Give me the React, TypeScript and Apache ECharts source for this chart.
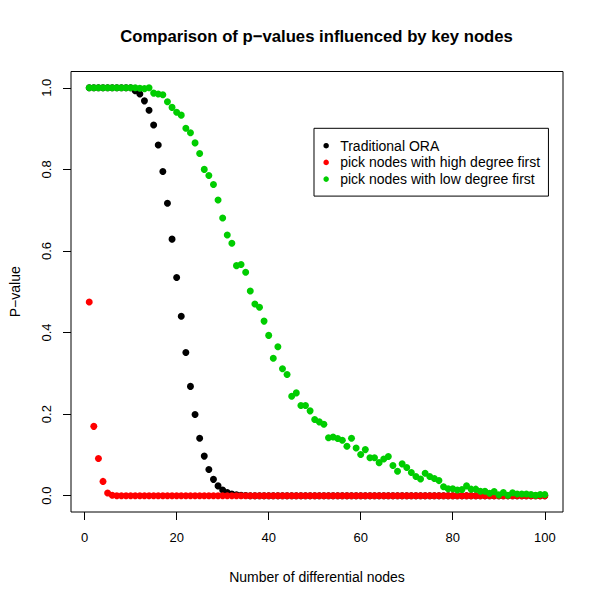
import React, { useEffect, useRef } from "react";
import * as echarts from "echarts";

const nodes = [
  1, 2, 3, 4, 5, 6, 7, 8, 9, 10,
  11, 12, 13, 14, 15, 16, 17, 18, 19, 20,
  21, 22, 23, 24, 25, 26, 27, 28, 29, 30,
  31, 32, 33, 34, 35, 36, 37, 38, 39, 40,
  41, 42, 43, 44, 45, 46, 47, 48, 49, 50,
  51, 52, 53, 54, 55, 56, 57, 58, 59, 60,
  61, 62, 63, 64, 65, 66, 67, 68, 69, 70,
  71, 72, 73, 74, 75, 76, 77, 78, 79, 80,
  81, 82, 83, 84, 85, 86, 87, 88, 89, 90,
  91, 92, 93, 94, 95, 96, 97, 98, 99, 100,
];

const traditionalORA = [
  1, 1, 1, 1, 1, 1, 1, 1, 1, 1,
  0.993, 0.985, 0.968, 0.945, 0.909, 0.86, 0.795, 0.717, 0.629, 0.535,
  0.44, 0.351, 0.268, 0.199, 0.141, 0.097, 0.064, 0.04, 0.024, 0.014,
  0.008, 0.004, 0.002, 0.001, 0.0005, 0, 0, 0, 0, 0,
  0, 0, 0, 0, 0, 0, 0, 0, 0, 0,
  0, 0, 0, 0, 0, 0, 0, 0, 0, 0,
  0, 0, 0, 0, 0, 0, 0, 0, 0, 0,
  0, 0, 0, 0, 0, 0, 0, 0, 0, 0,
  0, 0, 0, 0, 0, 0, 0, 0, 0, 0,
  0, 0, 0, 0, 0, 0, 0, 0, 0, 0,
];

const highDegreeFirst = [
  0.475, 0.17, 0.091, 0.035, 0.0066, 0.001, 0, 0, 0, 0,
  0, 0, 0, 0, 0, 0, 0, 0, 0, 0,
  0, 0, 0, 0, 0, 0, 0, 0, 0, 0,
  0, 0, 0, 0, 0, 0, 0, 0, 0, 0,
  0, 0, 0, 0, 0, 0, 0, 0, 0, 0,
  0, 0, 0, 0, 0, 0, 0, 0, 0, 0,
  0, 0, 0, 0, 0, 0, 0, 0, 0, 0,
  0, 0, 0, 0, 0, 0, 0, 0, 0, 0,
  0, 0, 0, 0, 0, 0, 0, 0, 0, 0,
  0, 0, 0, 0, 0, 0, 0, 0, 0, 0,
];

const lowDegreeFirst = [
  1, 1, 1, 1, 1, 1, 1, 1, 1, 1,
  1, 0.999, 0.998, 1, 0.987, 0.985, 0.983, 0.966, 0.952, 0.94,
  0.933, 0.901, 0.89, 0.865, 0.839, 0.8, 0.785, 0.763, 0.725, 0.681,
  0.639, 0.619, 0.564, 0.567, 0.548, 0.502, 0.47, 0.462, 0.428, 0.393,
  0.337, 0.365, 0.311, 0.297, 0.244, 0.252, 0.221, 0.221, 0.208, 0.187,
  0.181, 0.175, 0.142, 0.144, 0.14, 0.136, 0.121, 0.141, 0.117, 0.101,
  0.113, 0.093, 0.093, 0.081, 0.09, 0.096, 0.074, 0.06, 0.078, 0.069,
  0.057, 0.047, 0.041, 0.055, 0.047, 0.042, 0.037, 0.022, 0.017, 0.017,
  0.014, 0.015, 0.024, 0.016, 0.016, 0.011, 0.011, 0.006, 0.01, 0.002,
  0.008, 0.001, 0.007, 0.004, 0.004, 0.004, 0.003, 0.001, 0.003, 0.003,
];

const xTicks = [0, 20, 40, 60, 80, 100];
const yTicks = [0, 0.2, 0.4, 0.6, 0.8, 1.0];

const seriesNames = [
  "Traditional ORA",
  "pick nodes with high degree first",
  "pick nodes with low degree first",
];
const seriesColors = ["#000000", "#FF0000", "#00CD00"];

const FONT = "'Liberation Sans', Arial, Helvetica, sans-serif";

export default function App() {
  const ref = useRef<HTMLDivElement>(null);

  useEffect(() => {
    if (!ref.current) return;
    const chart = echarts.init(ref.current, null, { renderer: "svg" });
    const allValues = [traditionalORA, highDegreeFirst, lowDegreeFirst];
    const option: any = {
      animation: false,
      backgroundColor: "#ffffff",
      textStyle: { fontFamily: FONT },
      title: {
        text: "Comparison of p−values influenced by key nodes",
        left: 316.5,
        top: 28,
        textAlign: "center",
        padding: 0,
        textStyle: {
          fontFamily: FONT,
          fontSize: 16.7,
          fontWeight: "bold",
          color: "#000",
        },
      },
      legend: {
        orient: "vertical",
        left: 314,
        top: 128.3,
        padding: [10.4, 8.3, 10, 9.4],
        borderColor: "#000",
        borderWidth: 1,
        itemWidth: 18,
        itemHeight: 5.5,
        itemGap: 2.7,
        icon: "circle",
        data: seriesNames,
        textStyle: {
          fontFamily: FONT,
          fontSize: 14,
          lineHeight: 14,
          color: "#000",
        },
      },
      grid: {
        left: 69.5,
        top: 71.5,
        right: 37,
        bottom: 88,
        show: true,
        borderColor: "#000",
        borderWidth: 1,
        backgroundColor: "transparent",
      },
      xAxis: {
        type: "value",
        min: -2.96,
        max: 103.96,
        name: "Number of differential nodes",
        nameLocation: "middle",
        nameGap: 58,
        nameTextStyle: { fontFamily: FONT, fontSize: 14, color: "#000" },
        axisLine: { show: false, onZero: false },
        splitLine: { show: false },
        axisTick: {
          show: true,
          inside: false,
          length: 8,
          customValues: xTicks,
          lineStyle: { color: "#000", width: 1 },
        },
        axisLabel: {
          show: true,
          customValues: xTicks,
          margin: 19,
          fontFamily: FONT,
          fontSize: 13,
          color: "#000",
          formatter: (v: number) => String(v),
        },
      },
      yAxis: {
        type: "value",
        min: -0.04,
        max: 1.04,
        name: "P−value",
        nameLocation: "middle",
        nameGap: 49,
        nameTextStyle: { fontFamily: FONT, fontSize: 14, color: "#000" },
        axisLine: { show: false, onZero: false },
        splitLine: { show: false },
        axisTick: {
          show: true,
          inside: false,
          length: 8,
          customValues: yTicks,
          lineStyle: { color: "#000", width: 1 },
        },
        axisLabel: {
          show: true,
          customValues: yTicks,
          rotate: 90,
          margin: 18,
          fontFamily: FONT,
          fontSize: 13,
          color: "#000",
          formatter: (v: number) => v.toFixed(1),
        },
      },
      series: seriesNames.map((name, i) => ({
        name,
        type: "scatter",
        symbol: "circle",
        symbolSize: 7,
        itemStyle: { color: seriesColors[i], opacity: 1 },
        emphasis: { disabled: true },
        data: nodes.map((x, j) => [x, allValues[i][j]]),
      })),
    };
    chart.setOption(option);
    return () => chart.dispose();
  }, []);

  return (
    <div
      ref={ref}
      style={{ position: "fixed", left: 0, top: 0, width: 600, height: 600 }}
    />
  );
}
